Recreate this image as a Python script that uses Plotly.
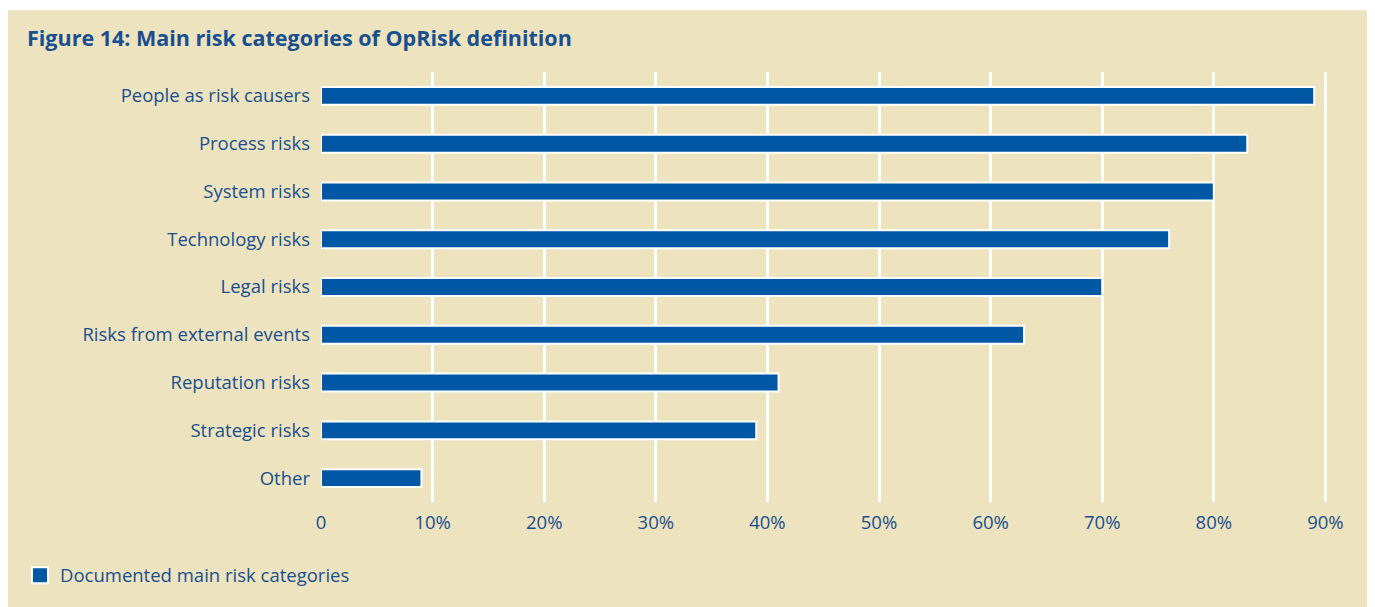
import plotly.graph_objects as go

categories = ["People as risk causers", "Process risks", "System risks", "Technology risks",
              "Legal risks", "Risks from external events", "Reputation risks",
              "Strategic risks", "Other"]
values = [89, 83, 80, 76, 70, 63, 41, 39, 9]
tick_vals = [0, 10, 20, 30, 40, 50, 60, 70, 80, 90]
tick_text = ["0", "10%", "20%", "30%", "40%", "50%", "60%", "70%", "80%", "90%"]
series_name = "Documented main risk categories"

BEIGE = "#ede3bf"
BLUE = "#0057a3"
TEXT = "#184f8f"
FONT = "Open Sans"

# page has an 8px body margin: figure is placed at (8, 8)
OFF = 8
W, H = 1375 - OFF, 607 - OFF
L, R, T, B = 321 - OFF, 35, 72 - OFF, 103
pw, ph = W - L - R, H - T - B

def px_to_paper_x(px):
    return (px - OFF - L) / pw

def px_to_paper_y(py):
    return (H - B - (py - OFF)) / ph

fig = go.Figure()
fig.add_trace(go.Bar(
    y=categories, x=values, orientation="h", name=series_name,
    marker=dict(color=BLUE, line=dict(color="white", width=2)),
    width=0.375, showlegend=False,
))
# legend entry with a larger square swatch
fig.add_trace(go.Scatter(
    x=[None], y=[None], mode="markers", name=series_name,
    marker=dict(symbol="square", size=16, color=BLUE, line=dict(color="white", width=2)),
    showlegend=True, hoverinfo="skip",
))

fig.add_shape(type="rect", xref="paper", yref="paper", layer="below",
              x0=px_to_paper_x(7), x1=px_to_paper_x(1369),
              y0=px_to_paper_y(620), y1=px_to_paper_y(10),
              fillcolor=BEIGE, line=dict(width=0))

fig.update_layout(
    width=W, height=H,
    margin=dict(l=L, r=R, t=T, b=B),
    paper_bgcolor="white",
    plot_bgcolor=BEIGE,
    font=dict(family=FONT, color=TEXT, size=18.5),
    title=dict(text="<b>Figure 14: Main risk categories of OpRisk definition</b>",
               x=(27 - OFF) / W, xanchor="left", xref="container",
               y=1 - (38 - OFF) / H, yanchor="middle", yref="container",
               font=dict(family=FONT, size=21.5, color=TEXT)),
    xaxis=dict(range=[0, pw / 11.16], tickvals=tick_vals, ticktext=tick_text,
               showgrid=True, gridcolor="white", gridwidth=2.5,
               zeroline=False, showline=False, ticks="",
               ticklabelstandoff=7, tickfont=dict(size=18.5, color=TEXT)),
    yaxis=dict(autorange="reversed", showgrid=False, zeroline=False,
               showline=False, ticks="", ticklabelstandoff=10,
               tickfont=dict(size=18.5, color=TEXT)),
    legend=dict(x=px_to_paper_x(20), xanchor="left", y=px_to_paper_y(578),
                yanchor="middle", orientation="h", bgcolor="rgba(0,0,0,0)",
                font=dict(size=18.5, color=TEXT)),
    bargap=0.6,
)

fig.write_html("out.html")
